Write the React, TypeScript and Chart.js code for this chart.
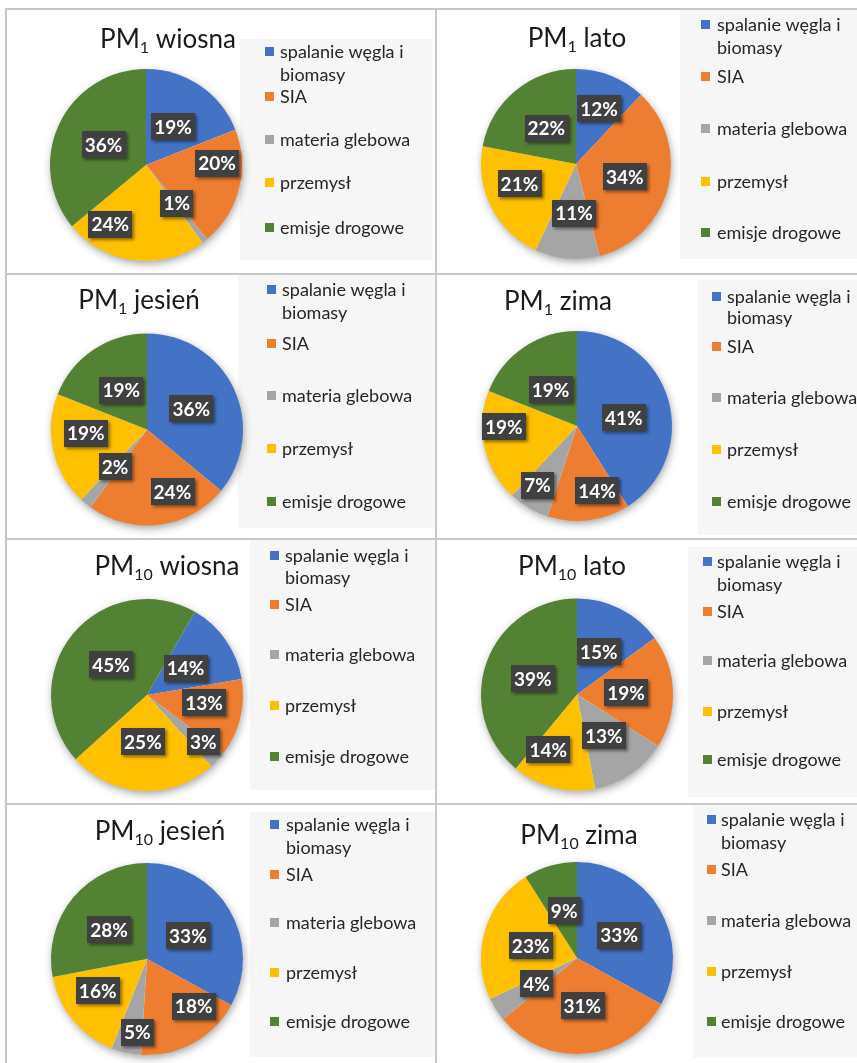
import React, { useEffect, useRef } from "react";
import { Chart, registerables } from "chart.js";

Chart.register(...registerables);

// ---------- data ----------
const categories = ["spalanie węgla i biomasy", "SIA", "materia glebowa", "przemysł", "emisje drogowe"];
const legendLines = [["spalanie węgla i", "biomasy"], ["SIA"], ["materia glebowa"], ["przemysł"], ["emisje drogowe"]];
const sliceColors = ["#4472C4", "#ED7D31", "#A5A5A5", "#FFC000", "#548235"];

const titleSubs = ["1", "1", "1", "1", "10", "10", "10", "10"];
const titleSeasons = ["wiosna", "lato", "jesień", "zima", "wiosna", "lato", "jesień", "zima"];

const pm1Wiosna = [19, 20, 1, 24, 36];
const pm1Lato = [12, 34, 11, 21, 22];
const pm1Jesien = [36, 24, 2, 19, 19];
const pm1Zima = [41, 14, 7, 19, 19];
const pm10Wiosna = [14, 13, 3, 25, 45];
const pm10Lato = [15, 19, 13, 14, 39];
const pm10Jesien = [33, 18, 5, 16, 28];
const pm10Zima = [33, 31, 4, 23, 9];

const seriesList = [pm1Wiosna, pm1Lato, pm1Jesien, pm1Zima, pm10Wiosna, pm10Lato, pm10Jesien, pm10Zima];
const startAngles = [0, 0, 0, 0, 30, 0, 0, 0];

// ---------- layout (positions / styles only) ----------
const FONT = "Lato, 'Open Sans', sans-serif";
const colLeft = [6, 436];
const colWidth = [430, 421];
const rowTop = [9, 274, 539, 804];
const cellHeight = 265;

type Layout = {
  cx: number; cy: number; r: number;
  titleX: number; titleY: number;
  bg: number[]; markerX: number; textX: number; rows: number[];
  labelDist: number[]; labelShift: number[];
};

const layouts: Layout[] = [
  { cx: 140, cy: 156, r: 96, titleX: 162, titleY: 39, bg: [234, 30, 192, 221], markerX: 259, textX: 274, rows: [43, 66, 88, 131, 174, 219], labelDist: [0.49, 0.74, 0.51, 0.72, 0.49], labelShift: [1, -16, -1, 24, 0] },
  { cx: 140, cy: 155, r: 95, titleX: 141, titleY: 38, bg: [244, 1, 177, 249], markerX: 265, textX: 281, rows: [16, 39, 68, 120, 173, 224], labelDist: [0.63, 0.53, 0.52, 0.63, 0.49], labelShift: [1, 0, -3, 8, 0] },
  { cx: 141, cy: 155.5, r: 96, titleX: 133, titleY: 35, bg: [232, 0, 197, 254], markerX: 261, textX: 276, rows: [16, 39, 70, 122, 175, 228], labelDist: [0.51, 0.7, 0.51, 0.64, 0.49], labelShift: [0, -15, 1, 9, 1] },
  { cx: 141, cy: 152, r: 95, titleX: 122, titleY: 36, bg: [262, 6, 159, 255], markerX: 276, textX: 291, rows: [23, 44, 73, 124, 176, 228], labelDist: [0.5, 0.71, 0.75, 0.77, 0.47], labelShift: [6, -10, 3, 12, -2] },
  { cx: 141, cy: 156, r: 96, titleX: 161, titleY: 36, bg: [244, 0, 185, 251], markerX: 264, textX: 279, rows: [17, 39, 66, 116, 167, 218], labelDist: [0.49, 0.6, 0.76, 0.49, 0.49], labelShift: [0, -6, -3, 2, 1] },
  { cx: 141, cy: 155.5, r: 96, titleX: 136, titleY: 36, bg: [252, 8, 169, 250], markerX: 267, textX: 281, rows: [23, 46, 73, 122, 173, 221], labelDist: [0.5, 0.51, 0.51, 0.65, 0.49], labelShift: [0, 0, 1, 13, 0] },
  { cx: 141, cy: 155, r: 96, titleX: 154, titleY: 36, bg: [244, 8, 185, 245], markerX: 264, textX: 280, rows: [21, 44, 71, 119, 169, 218], labelDist: [0.49, 0.69, 0.77, 0.61, 0.5], labelShift: [1, -16, -5, 7, -2] },
  { cx: 141, cy: 154, r: 96, titleX: 143, titleY: 40, bg: [257, 1, 164, 253], markerX: 271, textX: 285, rows: [16, 39, 66, 117, 168, 218], labelDist: [0.5, 0.5, 0.5, 0.5, 0.51], labelShift: [2, -1, 0, -1, 1] },
];

function makePanelPlugin(idx: number) {
  const L = layouts[idx];
  return {
    id: "panel" + idx,
    beforeDraw(chart: any) {
      const ctx: CanvasRenderingContext2D = chart.ctx;
      ctx.save();
      // legend background
      ctx.fillStyle = "#f6f6f6";
      ctx.fillRect(L.bg[0], L.bg[1], L.bg[2], L.bg[3]);
      // title with subscript
      const mainFont = "26px " + FONT;
      const subFont = "16px " + FONT;
      ctx.font = mainFont;
      const wPM = ctx.measureText("PM").width;
      const wRest = ctx.measureText(" " + titleSeasons[idx]).width;
      ctx.font = subFont;
      const wSub = ctx.measureText(titleSubs[idx]).width;
      const total = wPM + wSub + wRest;
      let x = L.titleX - total / 2;
      ctx.fillStyle = "#1a1a1a";
      ctx.textBaseline = "alphabetic";
      ctx.textAlign = "left";
      ctx.font = mainFont;
      ctx.fillText("PM", x, L.titleY);
      x += wPM;
      ctx.font = subFont;
      ctx.fillText(titleSubs[idx], x, L.titleY + 5);
      x += wSub;
      ctx.font = mainFont;
      ctx.fillText(" " + titleSeasons[idx], x, L.titleY);
      // legend
      ctx.font = "18px " + FONT;
      ctx.textBaseline = "middle";
      let row = 0;
      legendLines.forEach((lines, i) => {
        ctx.fillStyle = sliceColors[i];
        ctx.fillRect(L.markerX, L.rows[row] - 5, 9, 9);
        lines.forEach((t) => {
          ctx.fillStyle = "#262626";
          ctx.fillText(t, L.textX, L.rows[row]);
          row++;
        });
      });
      // soft shadow under the pie
      const meta = chart.getDatasetMeta(0);
      const a = meta.data[0];
      if (a) {
        ctx.shadowColor = "rgba(0,0,0,0.38)";
        ctx.shadowBlur = 9;
        ctx.shadowOffsetX = 1;
        ctx.shadowOffsetY = 3;
        ctx.fillStyle = "#ffffff";
        ctx.beginPath();
        ctx.arc(a.x, a.y, a.outerRadius - 0.5, 0, Math.PI * 2);
        ctx.fill();
      }
      ctx.restore();
    },
    afterDatasetsDraw(chart: any) {
      const ctx: CanvasRenderingContext2D = chart.ctx;
      const meta = chart.getDatasetMeta(0);
      const values = chart.data.datasets[0].data as number[];
      ctx.save();
      ctx.font = "bold 19px " + FONT;
      ctx.textAlign = "center";
      ctx.textBaseline = "middle";
      meta.data.forEach((arc: any, i: number) => {
        const mid = (arc.startAngle + arc.endAngle) / 2 + (L.labelShift[i] * Math.PI) / 180;
        const d = arc.outerRadius * L.labelDist[i];
        const px = arc.x + Math.cos(mid) * d;
        const py = arc.y + Math.sin(mid) * d;
        const text = values[i] + "%";
        const w = ctx.measureText(text).width + 6;
        const h = 27;
        ctx.save();
        ctx.shadowColor = "rgba(0,0,0,0.45)";
        ctx.shadowBlur = 3;
        ctx.shadowOffsetX = 2;
        ctx.shadowOffsetY = 2;
        ctx.fillStyle = "#404040";
        ctx.fillRect(Math.round(px - w / 2), Math.round(py - h / 2), Math.round(w), h);
        ctx.restore();
        ctx.fillStyle = "#ffffff";
        ctx.fillText(text, px, py + 1);
      });
      ctx.restore();
    },
  };
}

function Panel({ idx }: { idx: number }) {
  const ref = useRef<HTMLCanvasElement | null>(null);
  const col = idx % 2;
  const row = Math.floor(idx / 2);
  const W = colWidth[col];
  const H = cellHeight;
  useEffect(() => {
    const L = layouts[idx];
    const canvas = ref.current!;
    const chart = new Chart(canvas, {
      type: "pie",
      data: {
        labels: categories,
        datasets: [
          {
            data: seriesList[idx],
            backgroundColor: sliceColors,
            borderWidth: 0,
          },
        ],
      },
      options: {
        responsive: false,
        maintainAspectRatio: false,
        animation: false,
        events: [],
        rotation: startAngles[idx],
        layout: {
          padding: {
            left: L.cx - L.r,
            top: L.cy - L.r,
            right: W - L.cx - L.r,
            bottom: H - L.cy - L.r,
          },
        },
        plugins: {
          legend: { display: false },
          title: { display: false },
          tooltip: { enabled: false },
        },
      },
      plugins: [makePanelPlugin(idx)],
    });
    return () => chart.destroy();
  }, [idx]);
  return (
    <canvas
      ref={ref}
      width={W}
      height={H}
      style={{ position: "absolute", left: colLeft[col], top: rowTop[row], width: W, height: H }}
    />
  );
}

const lineColor = "#c8c8c8";

export default function App() {
  const hLines = [8, 273, 538, 803];
  const vLines = [5, 435];
  return (
    <div style={{ position: "absolute", left: 0, top: 0, width: 857, height: 1063, overflow: "hidden", background: "#ffffff" }}>
      {seriesList.map((_, i) => (
        <Panel key={i} idx={i} />
      ))}
      {hLines.map((y, i) => (
        <div key={"h" + i} style={{ position: "absolute", left: 5, top: y, width: 852, height: 2, background: lineColor }} />
      ))}
      {vLines.map((x, i) => (
        <div key={"v" + i} style={{ position: "absolute", left: x, top: 8, width: 2, height: 1055, background: lineColor }} />
      ))}
    </div>
  );
}
